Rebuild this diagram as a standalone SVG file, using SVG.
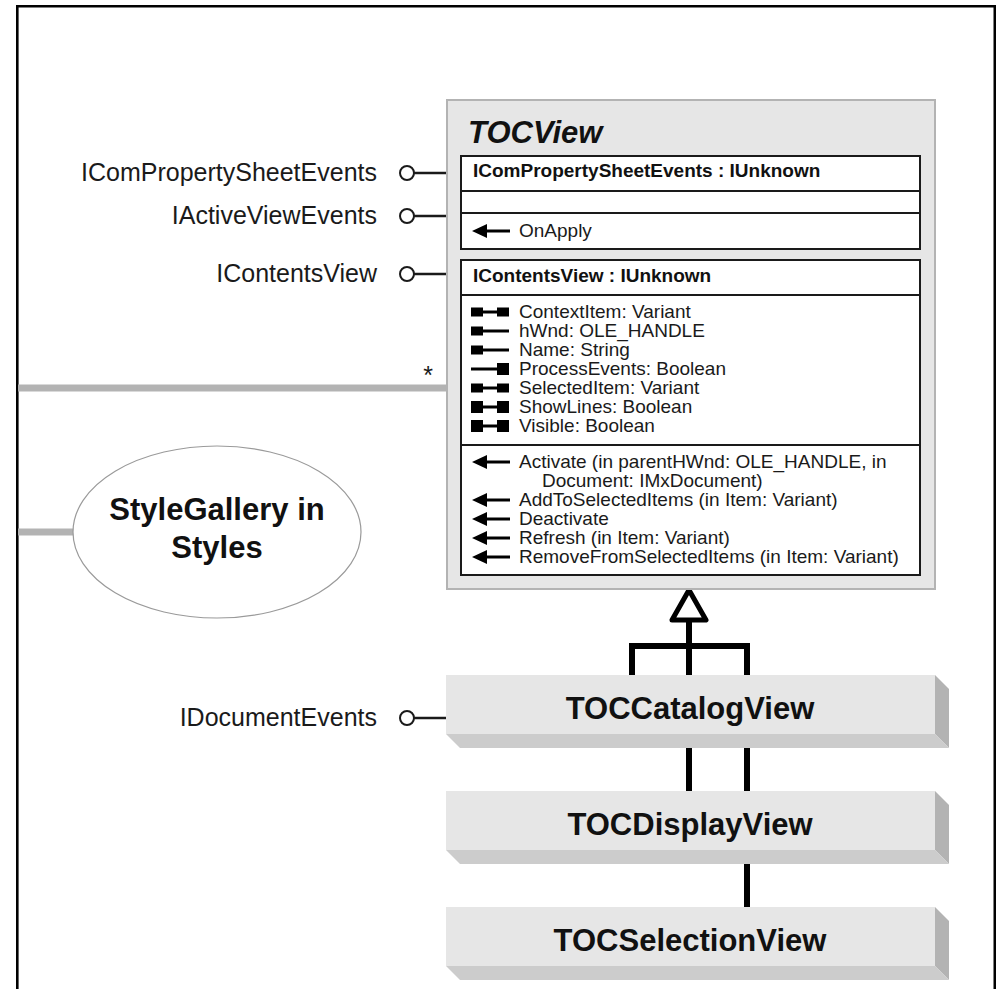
<svg xmlns="http://www.w3.org/2000/svg" width="996" height="989" viewBox="0 0 996 989">
  <style>
    .lbl { font-family: "Liberation Sans", Arial, sans-serif; font-size: 25px; fill: #1a1a1a; }
    .mem { font-family: "Liberation Sans", Arial, sans-serif; font-size: 19px; fill: #1a1a1a; }
    .hdr { font-family: "Liberation Sans", Arial, sans-serif; font-size: 19px; font-weight: bold; fill: #111; }
    .title { font-family: "Liberation Sans", Arial, sans-serif; font-size: 31px; font-weight: bold; font-style: italic; fill: #111; }
    .cls { font-family: "Liberation Sans", Arial, sans-serif; font-size: 31px; font-weight: bold; fill: #111; text-anchor: middle; }
    .ibox { fill: #ffffff; stroke: #1a1a1a; stroke-width: 2; }
    .sep { stroke: #1a1a1a; stroke-width: 2; }
    .lolly { fill: #ffffff; stroke: #1a1a1a; stroke-width: 2; }
    .wire { stroke: #1a1a1a; stroke-width: 2.5; fill: none; }
    .assoc { stroke: #b3b3b3; stroke-width: 7; fill: none; }
    .inh { stroke: #000; stroke-width: 6; fill: none; }
    .front { fill: #e6e6e6; }
    .bottom { fill: #cccccc; }
    .side { fill: #b3b3b3; }
  </style>
  <defs>
    <!-- property and method glyphs, origin at left-centre -->
    <g id="p-rw"><rect x="0" y="-4.5" width="12" height="9" fill="#000"/><line x1="12" y1="0" x2="26" y2="0" stroke="#000" stroke-width="3"/><rect x="26" y="-4.5" width="12" height="9" fill="#000"/></g>
    <g id="p-rw2"><rect x="0" y="-6" width="12" height="12" fill="#000"/><line x1="12" y1="0" x2="26" y2="0" stroke="#000" stroke-width="3"/><rect x="26" y="-6" width="12" height="12" fill="#000"/></g>
    <g id="p-r"><rect x="0" y="-4.5" width="12" height="9" fill="#000"/><line x1="12" y1="0" x2="38" y2="0" stroke="#000" stroke-width="3"/></g>
    <g id="p-w"><line x1="0" y1="0" x2="26" y2="0" stroke="#000" stroke-width="3"/><rect x="26" y="-6" width="12" height="12" fill="#000"/></g>
    <g id="m"><polygon points="0,0 15,-7 15,7" fill="#000"/><line x1="14" y1="0" x2="38" y2="0" stroke="#000" stroke-width="3"/></g>
  </defs>

  <rect x="0" y="0" width="996" height="989" fill="#ffffff"/>
  <!-- frame -->
  <path d="M17.3,995 V6.2 H994.8 V995" fill="none" stroke="#000" stroke-width="2.6"/>

  <!-- connectors -->
  <g id="connectors">
    <line class="assoc" x1="18" y1="388" x2="447" y2="388"/>
    <line class="assoc" x1="18" y1="532" x2="74" y2="532"/>
    <line class="wire" x1="414" y1="173" x2="461" y2="173"/>
    <line class="wire" x1="414" y1="216" x2="447" y2="216"/>
    <line class="wire" x1="414" y1="274" x2="461" y2="274"/>
    <line class="wire" x1="414" y1="718" x2="446" y2="718"/>
    <circle class="lolly" cx="407" cy="173" r="7"/>
    <circle class="lolly" cx="407" cy="216" r="7"/>
    <circle class="lolly" cx="407" cy="274" r="7"/>
    <circle class="lolly" cx="407" cy="718" r="7"/>
    <!-- inheritance tree -->
    <line class="inh" x1="689" y1="618" x2="689" y2="676"/>
    <path class="inh" d="M632,676 V646 H747 V676"/>
    <line class="inh" x1="689" y1="747" x2="689" y2="792"/>
    <line class="inh" x1="747" y1="747" x2="747" y2="792"/>
    <line class="inh" x1="747" y1="863" x2="747" y2="908"/>
    <polygon points="689,590 706,620 672,620" fill="#ffffff" stroke="#000" stroke-width="5" stroke-linejoin="round"/>
    <text class="lbl" x="428" y="384" font-size="32" text-anchor="middle">*</text>
  </g>

  <!-- interface labels -->
  <g id="lbl-icps"><text class="lbl" x="377" y="181" text-anchor="end">IComPropertySheetEvents</text></g>
  <g id="lbl-iave"><text class="lbl" x="377" y="224" text-anchor="end">IActiveViewEvents</text></g>
  <g id="lbl-icv"><text class="lbl" x="377" y="282" text-anchor="end">IContentsView</text></g>
  <g id="lbl-ide"><text class="lbl" x="377" y="726" text-anchor="end">IDocumentEvents</text></g>

  <!-- TOCView abstract class -->
  <g id="tocview">
    <rect x="447" y="100" width="488" height="489" fill="#e6e6e6" stroke="#b3b3b3" stroke-width="2"/>
    <text class="title" x="468" y="143">TOCView</text>

    <rect class="ibox" x="461" y="156" width="459" height="93"/>
    <line class="sep" x1="461" y1="191" x2="920" y2="191"/>
    <line class="sep" x1="461" y1="213" x2="920" y2="213"/>
    <text class="hdr" x="473" y="177">IComPropertySheetEvents : IUnknown</text>
    <use href="#m" x="472" y="231"/>
    <text class="mem" x="519" y="237">OnApply</text>

    <rect class="ibox" x="461" y="260" width="459" height="315"/>
    <line class="sep" x1="461" y1="295" x2="920" y2="295"/>
    <line class="sep" x1="461" y1="445" x2="920" y2="445"/>
    <text class="hdr" x="473" y="282">IContentsView : IUnknown</text>

    <use href="#p-rw" x="471" y="312"/>
    <use href="#p-r" x="471" y="331"/>
    <use href="#p-r" x="471" y="350"/>
    <use href="#p-w" x="471" y="369"/>
    <use href="#p-rw" x="471" y="388"/>
    <use href="#p-rw2" x="471" y="407"/>
    <use href="#p-rw2" x="471" y="426"/>
    <text class="mem" x="519" y="318">ContextItem: Variant</text>
    <text class="mem" x="519" y="337">hWnd: OLE_HANDLE</text>
    <text class="mem" x="519" y="356">Name: String</text>
    <text class="mem" x="519" y="375">ProcessEvents: Boolean</text>
    <text class="mem" x="519" y="394">SelectedItem: Variant</text>
    <text class="mem" x="519" y="413">ShowLines: Boolean</text>
    <text class="mem" x="519" y="432">Visible: Boolean</text>

    <use href="#m" x="472" y="462"/>
    <use href="#m" x="472" y="500"/>
    <use href="#m" x="472" y="519"/>
    <use href="#m" x="472" y="538"/>
    <use href="#m" x="472" y="557"/>
    <text class="mem" x="519" y="468">Activate (in parentHWnd: OLE_HANDLE, in</text>
    <text class="mem" x="542" y="487">Document: IMxDocument)</text>
    <text class="mem" x="519" y="506">AddToSelectedItems (in Item: Variant)</text>
    <text class="mem" x="519" y="525">Deactivate</text>
    <text class="mem" x="519" y="544">Refresh (in Item: Variant)</text>
    <text class="mem" x="519" y="563">RemoveFromSelectedItems (in Item: Variant)</text>
  </g>

  <!-- StyleGallery reference -->
  <g id="stylegallery">
    <ellipse cx="217" cy="532" rx="144" ry="86" fill="#ffffff" stroke="#9a9a9a" stroke-width="1.2"/>
    <text class="cls" x="217" y="520">StyleGallery in</text>
    <text class="cls" x="217" y="558">Styles</text>
  </g>

  <!-- concrete classes -->
  <g id="toccatalogview">
    <polygon class="side" points="935,675 949,689 949,748 935,734"/>
    <polygon class="bottom" points="446,734 935,734 949,748 460,748"/>
    <rect class="front" x="446" y="675" width="489" height="59"/>
    <text class="cls" x="690" y="719">TOCCatalogView</text>
  </g>
  <g id="tocdisplayview">
    <polygon class="side" points="935,791 949,805 949,864 935,850"/>
    <polygon class="bottom" points="446,850 935,850 949,864 460,864"/>
    <rect class="front" x="446" y="791" width="489" height="59"/>
    <text class="cls" x="690" y="835">TOCDisplayView</text>
  </g>
  <g id="tocselectionview">
    <polygon class="side" points="935,907 949,921 949,980 935,966"/>
    <polygon class="bottom" points="446,966 935,966 949,980 460,980"/>
    <rect class="front" x="446" y="907" width="489" height="59"/>
    <text class="cls" x="690" y="951">TOCSelectionView</text>
  </g>
</svg>
